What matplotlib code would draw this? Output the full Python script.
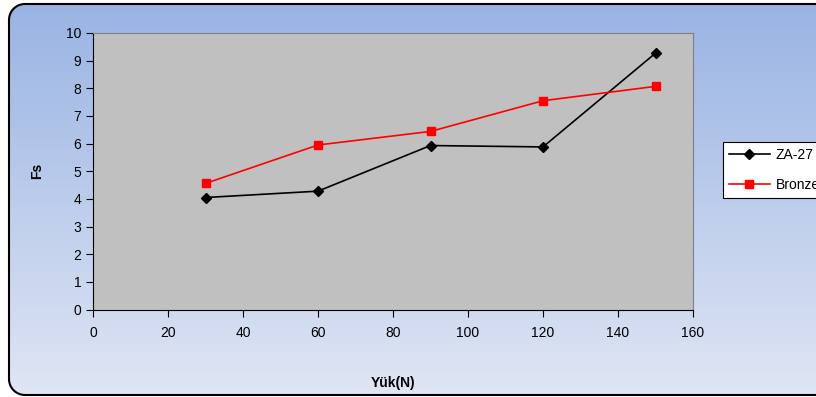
import numpy as np
import matplotlib.pyplot as plt
from matplotlib.patches import FancyBboxPatch

plt.rcParams['font.family'] = ['Liberation Sans', 'DejaVu Sans']

load = [30, 60, 90, 120, 150]
za27 = [4.05, 4.28, 5.93, 5.88, 9.27]
bronze = [4.56, 5.95, 6.44, 7.55, 8.07]

fig = plt.figure(figsize=(8.16, 3.97), dpi=100)
fig.patch.set_facecolor('white')

# gradient background in a rounded box (right side runs off the image)
bg = fig.add_axes([0, 0, 1, 1])
bg.axis('off')
grad = np.linspace(0, 1, 256).reshape(-1, 1)
top = np.array([0x98, 0xB3, 0xE3]) / 255
bot = np.array([0xE0, 0xE6, 0xF4]) / 255
img = top + (bot - top) * grad[:, :, None]
im = bg.imshow(img, extent=[0, 816, 0, 397], origin='upper', aspect='auto')
r = 16
box = FancyBboxPatch((9, 2), 900, 391, boxstyle=f'round,pad=0,rounding_size={r}',
                     fc='none', ec='none')
bg.add_patch(box)
im.set_clip_path(box)
t1 = np.linspace(np.pi / 2, np.pi, 20)
t2 = np.linspace(np.pi, 1.5 * np.pi, 20)
ox = np.concatenate([[830], 9 + r + r * np.cos(t1), 9 + r + r * np.cos(t2), [830]])
oy = np.concatenate([[393], 393 - r + r * np.sin(t1), 2 + r + r * np.sin(t2), [2]])
bg.plot(ox, oy, color='black', lw=1.5, solid_capstyle='butt')
bg.set_xlim(0, 816)
bg.set_ylim(0, 397)

ax = fig.add_axes([93 / 816, 87.5 / 397, 600 / 816, 276.5 / 397])
ax.set_facecolor('#C0C0C0')
ax.plot(load, za27, color='black', lw=1.2, marker='D', ms=5.5, label='ZA-27')
ax.plot(load, bronze, color='red', lw=1.2, marker='s', ms=6, label='Bronze')

ax.set_xlim(0, 160)
ax.set_ylim(0, 10)
ax.set_xticks(range(0, 161, 20))
ax.set_yticks(range(0, 11))
for s in ['top', 'right']:
    ax.spines[s].set_color('#808080')
for s in ['left', 'bottom']:
    ax.spines[s].set_color('black')
ax.tick_params(labelsize=10, length=5, width=0.8, direction='out')
ax.tick_params(axis='x', pad=7)

ax.set_xlabel('Yük(N)', fontsize=10, fontweight='bold')
ax.set_ylabel('Fs', fontsize=10, fontweight='bold')
ax.xaxis.set_label_coords(0.5, -0.24)
ax.yaxis.set_label_coords(-0.082, 0.5)

leg = ax.legend(loc='upper left', bbox_to_anchor=(723 / 816, 255 / 397),
                bbox_transform=fig.transFigure, borderaxespad=0, fancybox=False,
                edgecolor='black', framealpha=1, fontsize=10, handlelength=3,
                handletextpad=0.4, labelspacing=1.2)
leg.get_frame().set_linewidth(0.8)

fig.savefig('out.png', dpi=100)
